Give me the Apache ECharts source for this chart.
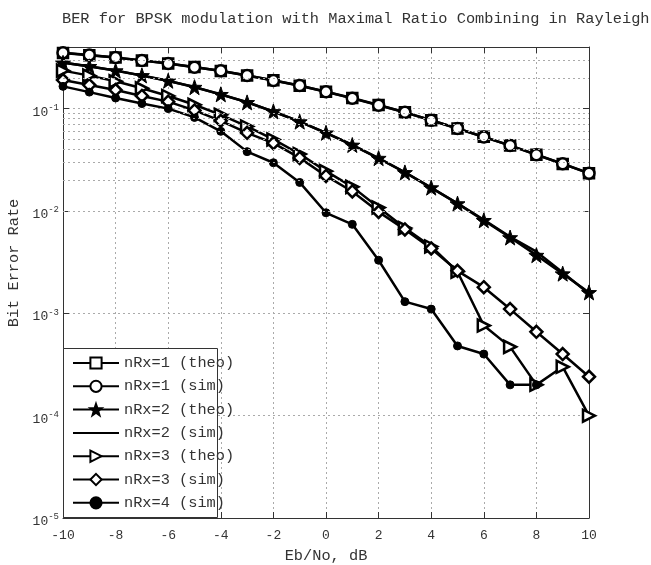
<!DOCTYPE html>
<html>
<head>
<meta charset="utf-8">
<script src="https://cdn.jsdelivr.net/npm/echarts@6/dist/echarts.min.js"></script>
<style>
html,body{margin:0;padding:0;background:#fff;}
#chart{width:651px;height:565px;}
</style>
</head>
<body>
<div id="chart"></div>
<script>
// ---- data ----
const ebNo = [-10,-9,-8,-7,-6,-5,-4,-3,-2,-1,0,1,2,3,4,5,6,7,8,9,10];
const nRx1Theo = [0.349,0.333,0.315,0.296,0.276,0.255,0.233,0.211,0.189,0.167,0.146,0.127,0.1085,0.092,0.077,0.064,0.053,0.0435,0.0355,0.0288,0.0233];
const nRx1Sim  = [0.351,0.334,0.316,0.295,0.276,0.254,0.234,0.211,0.188,0.168,0.146,0.126,0.108,0.092,0.077,0.064,0.0528,0.0437,0.0354,0.0289,0.0234];
const nRx2Theo = [0.280,0.259,0.235,0.211,0.187,0.162,0.138,0.115,0.0937,0.0746,0.058,0.0441,0.0328,0.0238,0.0169,0.0118,0.0081,0.0055,0.0037,0.00244,0.0016];
const nRx2Sim  = [0.282,0.258,0.236,0.210,0.186,0.163,0.137,0.116,0.0935,0.0748,0.0578,0.0443,0.0326,0.0239,0.0168,0.0119,0.0082,0.0056,0.0040,0.0025,0.00155];
const nRx3Theo = [0.235,0.21,0.185,0.158,0.133,0.109,0.087,0.067,0.05,0.036,0.0245,0.0172,0.0108,0.0068,0.0045,0.00255,0.00076,0.00047,0.0002,0.0003,0.0001];
const nRx3Sim  = [0.19,0.17,0.152,0.133,0.117,0.096,0.076,0.058,0.046,0.033,0.022,0.0155,0.0098,0.0066,0.0043,0.0026,0.0018,0.0011,0.00066,0.0004,0.00024];
const nRx4Sim  = [0.165,0.145,0.127,0.112,0.1,0.082,0.06,0.038,0.0296,0.019,0.0096,0.0074,0.0033,0.0013,0.0011,0.00048,0.0004,0.0002,0.0002,null,null];
const xTicks = [-10,-8,-6,-4,-2,0,2,4,6,8,10];
const yMin = 1e-5, yMax = 0.4;
const minorGrid = [2e-5,3e-5,4e-5,5e-5,6e-5,7e-5,8e-5,9e-5,
  2e-4,3e-4,4e-4,5e-4,6e-4,7e-4,8e-4,9e-4,
  2e-3,3e-3,4e-3,5e-3,6e-3,7e-3,8e-3,9e-3,
  2e-2,3e-2,4e-2,5e-2,6e-2,7e-2,8e-2,9e-2,
  2e-1,3e-1];
const legendNames = ['nRx=1 (theo)','nRx=1 (sim)','nRx=2 (theo)','nRx=2 (sim)','nRx=3 (theo)','nRx=3 (sim)','nRx=4 (sim)'];

const pairs = arr => ebNo.map((x,i) => [x, arr[i]]);
const MONO = '"Liberation Mono","DejaVu Sans Mono",monospace';
const TXT = '#333';
const STAR = 'path://M0,-10 L2.35,-3.24 L9.51,-3.09 L3.8,1.24 L5.88,8.09 L0,4 L-5.88,8.09 L-3.8,1.24 L-9.51,-3.09 L-2.35,-3.24 Z';
const PLAIN_LINE = 'path://M0,0 H46 V2 H0 Z';

function mk(name, arr, symbol, size, filled, rot){
  return {
    name, type:'line', data: pairs(arr), xAxisIndex:0, yAxisIndex:0,
    symbol, symbolSize:size, symbolRotate: rot||0, showSymbol: symbol!=='none',
    connectNulls:false, z:2,
    lineStyle:{color:'#000', width:2.5},
    itemStyle: filled ? {color:'#000', borderColor:'#000', borderWidth:1}
                      : {color:'#fff', borderColor:'#000', borderWidth:2.5},
    emphasis:{disabled:true}, animation:false
  };
}

const sup = {fontSize:9, fontFamily:MONO, color:TXT, padding:[0,0,9,0]};
const base = {fontSize:13, fontFamily:MONO, color:TXT};

const chart = echarts.init(document.getElementById('chart'), null, {renderer:'canvas'});
chart.setOption({
  animation:false,
  backgroundColor:'#fff',
  title:{
    text:'BER for BPSK modulation with Maximal Ratio Combining in Rayleigh',
    left:57, top:6,
    textStyle:{fontFamily:MONO, fontSize:15.3, fontWeight:'normal', color:TXT}
  },
  grid:{left:63, right:62, top:47, bottom:47, containLabel:false, outerBoundsMode:'none'},
  xAxis:[{
    type:'value', min:-10, max:10, interval:2, position:'bottom',
    name:'Eb/No, dB', nameLocation:'middle', nameGap:30,
    nameTextStyle:{fontFamily:MONO, fontSize:15.3, color:TXT},
    axisLine:{show:true, onZero:false, lineStyle:{color:'#333', width:1}},
    axisTick:{show:true, inside:true, length:6, lineStyle:{color:'#333'}},
    axisLabel:{fontFamily:MONO, fontSize:13, color:TXT, margin:11, formatter: v => String(v)},
    splitLine:{show:true, lineStyle:{color:'#aaa', type:[2,3], width:1}}
  },{
    type:'value', min:-10, max:10, interval:2, position:'top',
    axisLine:{show:true, onZero:false, lineStyle:{color:'#333', width:1}},
    axisTick:{show:true, inside:true, length:6, lineStyle:{color:'#333'}},
    axisLabel:{show:false}, splitLine:{show:false}
  }],
  yAxis:[{
    type:'log', logBase:10, min:yMin, max:yMax, position:'left',
    axisLine:{show:true, onZero:false, lineStyle:{color:'#333', width:1}},
    axisTick:{show:true, inside:true, length:6, lineStyle:{color:'#333'}},
    axisLabel:{
      showMaxLabel:false, margin:4, padding:[7,0,0,0],
      formatter: v => '{b|10}{s|' + Math.round(Math.log10(v)) + '}',
      rich:{b:base, s:sup}
    },
    splitLine:{show:true, lineStyle:{color:'#aaa', type:[2,3], width:1}}
  },{
    type:'log', logBase:10, min:yMin, max:yMax, position:'right',
    axisLine:{show:true, onZero:false, lineStyle:{color:'#333', width:1}},
    axisTick:{show:true, inside:true, length:6, lineStyle:{color:'#333'}},
    axisLabel:{show:false}, splitLine:{show:false}
  }],
  legend:{
    data: legendNames.map(n => n === 'nRx=2 (sim)' ? {name:n, icon:PLAIN_LINE, itemStyle:{borderWidth:0}} : {name:n}),
    orient:'vertical', left:67, top:350.5,
    itemWidth:46, itemHeight:14, itemGap:8.3, itemSymbolKeepAspect:true,
    selectedMode:false, z:6,
    textStyle:{fontFamily:MONO, fontSize:15.3, color:TXT, lineHeight:14}
  },
  graphic:[
    {type:'rect', z:5, shape:{x:63.5, y:348.5, width:154, height:169},
     style:{fill:'#fff', stroke:'#333', lineWidth:1}},
    {type:'text', z:5, x:14, y:263, rotation:Math.PI/2,
     style:{text:'Bit Error Rate', font:'15.3px ' + MONO, fill:TXT, align:'center', verticalAlign:'middle'}}
  ],
  series:[
    {
      name:'minor-grid', type:'line', data:[], z:1, silent:true, xAxisIndex:0, yAxisIndex:0,
      markLine:{
        silent:true, symbol:['none','none'], label:{show:false}, animation:false,
        lineStyle:{color:'#aaa', type:[2,3], width:1},
        data: minorGrid.map(v => ({yAxis:v}))
      }
    },
    mk(legendNames[0], nRx1Theo, 'rect', 10, false),
    mk(legendNames[1], nRx1Sim, 'circle', 11, false),
    mk(legendNames[2], nRx2Theo, STAR, 15, true),
    mk(legendNames[3], nRx2Sim, 'none', 0, true),
    mk(legendNames[4], nRx3Theo, 'triangle', 12, false, -90),
    mk(legendNames[5], nRx3Sim, 'diamond', 12, false),
    mk(legendNames[6], nRx4Sim, 'circle', 8, true)
  ]
});
</script>
</body>
</html>
